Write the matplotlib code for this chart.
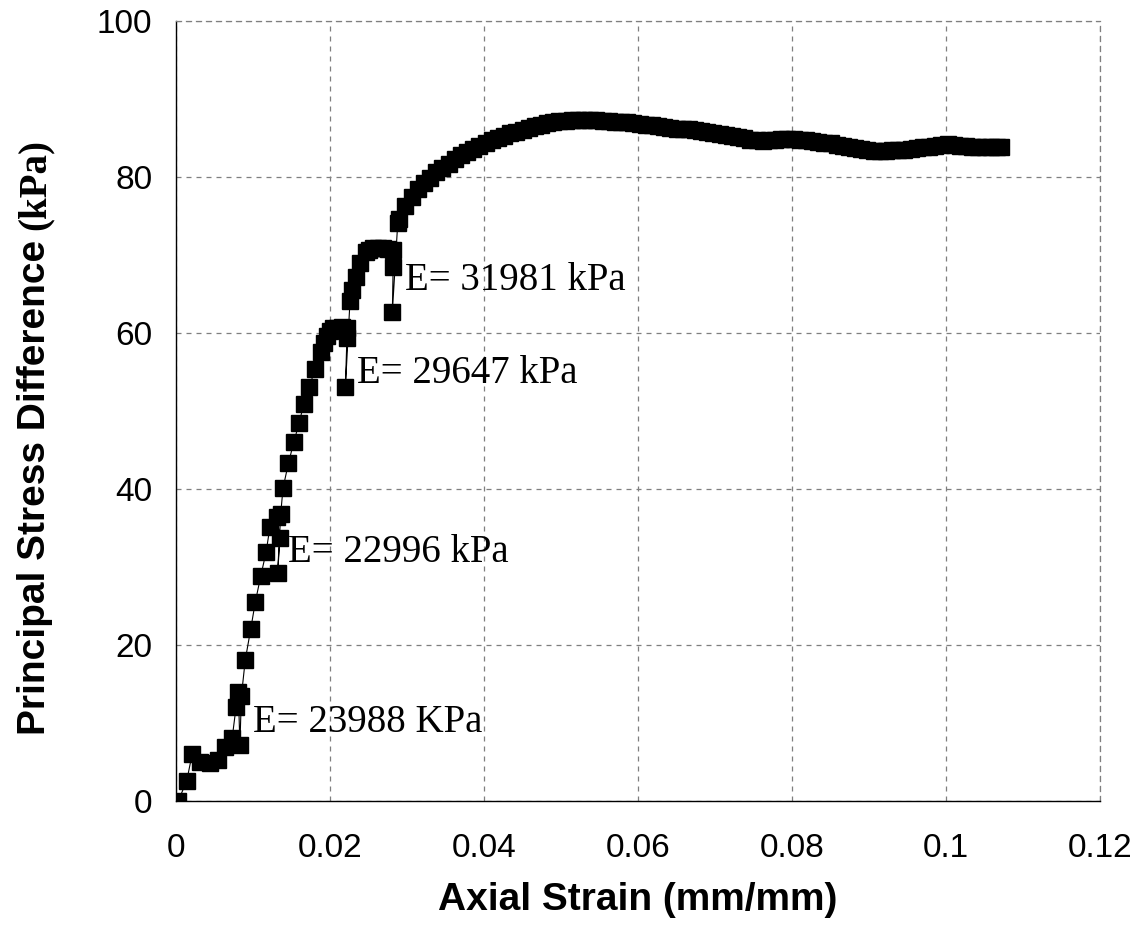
import matplotlib.pyplot as plt

# lecture de la courbe (déformation axiale, déviateur)
strain_start = [0.0003, 0.0014, 0.0021, 0.0031, 0.0044, 0.0055, 0.0064, 0.0073,
                0.0078, 0.0081, 0.0083, 0.0085, 0.0090, 0.0097, 0.0103, 0.0110,
                0.0117, 0.0122, 0.0131, 0.0135, 0.0132, 0.0136, 0.0139, 0.0146,
                0.0153, 0.0160, 0.0166, 0.0173, 0.0181, 0.0188, 0.0192, 0.0196,
                0.0200, 0.0204, 0.0209, 0.0215, 0.0222, 0.0222, 0.0220, 0.0226,
                0.0228, 0.0234, 0.0239, 0.0247, 0.0251, 0.0256, 0.0262, 0.0269,
                0.0275, 0.0282, 0.0282, 0.0281, 0.0288]
stress_start = [0.0, 2.6, 6.0, 5.0, 4.9, 5.3, 6.9, 8.1,
                12.0, 14.0, 7.2, 13.5, 18.1, 22.0, 25.5, 28.8,
                31.9, 35.1, 36.4, 33.7, 29.2, 36.8, 40.1, 43.3,
                46.0, 48.5, 50.9, 53.1, 55.4, 57.6, 58.7, 59.6,
                60.2, 60.6, 60.7, 60.8, 60.6, 59.4, 53.1, 64.1,
                65.5, 67.2, 69.0, 70.4, 70.7, 70.9, 70.9, 70.9,
                70.8, 70.6, 68.5, 62.7, 74.1]

strain_end = [0.0290, 0.0298, 0.0306, 0.0314, 0.0322, 0.0330, 0.0338, 0.0346,
              0.0354, 0.0362, 0.0370, 0.0378, 0.0386, 0.0394, 0.0402, 0.0410,
              0.0418, 0.0426, 0.0434, 0.0442, 0.0450, 0.0458, 0.0466, 0.0474,
              0.0482, 0.0490, 0.0498, 0.0506, 0.0514, 0.0522, 0.0530, 0.0538,
              0.0546, 0.0554, 0.0562, 0.0570, 0.0578, 0.0586, 0.0594, 0.0602,
              0.0610, 0.0618, 0.0626, 0.0634, 0.0642, 0.0650, 0.0658, 0.0666,
              0.0674, 0.0682, 0.0690, 0.0698, 0.0706, 0.0714, 0.0722, 0.0730,
              0.0738, 0.0746, 0.0754, 0.0762, 0.0770, 0.0778, 0.0786, 0.0794,
              0.0802, 0.0810, 0.0818, 0.0826, 0.0834, 0.0842, 0.0850, 0.0858,
              0.0866, 0.0874, 0.0882, 0.0890, 0.0898, 0.0906, 0.0914, 0.0922,
              0.0930, 0.0938, 0.0946, 0.0954, 0.0962, 0.0970, 0.0978, 0.0986,
              0.0994, 0.1002, 0.1010, 0.1018, 0.1026, 0.1034, 0.1042, 0.1050,
              0.1058, 0.1066, 0.1072]
stress_end = [74.6, 76.3, 77.4, 78.4, 79.2, 79.9, 80.6, 81.2,
              81.7, 82.3, 82.8, 83.2, 83.6, 84.0, 84.3, 84.7,
              85.0, 85.3, 85.6, 85.8, 86.0, 86.3, 86.5, 86.7,
              86.9, 87.0, 87.2, 87.2, 87.3, 87.3, 87.3, 87.3,
              87.3, 87.2, 87.2, 87.1, 87.0, 87.0, 86.9, 86.8,
              86.7, 86.6, 86.5, 86.4, 86.3, 86.2, 86.1, 86.1,
              86.0, 85.9, 85.8, 85.6, 85.5, 85.4, 85.3, 85.1,
              85.0, 84.8, 84.7, 84.6, 84.7, 84.8, 84.9, 84.9,
              84.9, 84.8, 84.7, 84.6, 84.5, 84.4, 84.3, 84.1,
              84.0, 83.9, 83.7, 83.6, 83.4, 83.3, 83.3, 83.3,
              83.4, 83.4, 83.5, 83.6, 83.7, 83.8, 83.9, 84.0,
              84.1, 84.2, 84.1, 84.0, 84.0, 83.9, 83.9, 83.9,
              83.8, 83.8, 83.8]

strain = strain_start + strain_end
stress = stress_start + stress_end

# modules annotés
labels_E = ["E= 23988 KPa", "E= 22996 kPa", "E= 29647 kPa", "E= 31981 kPa"]
x_E = [0.0100, 0.01455, 0.02351, 0.02974]
y_E = [8.85, 30.64, 53.59, 65.51]

x_ticks = [0, 0.02, 0.04, 0.06, 0.08, 0.1, 0.12]
x_ticklabels = ["0", "0.02", "0.04", "0.06", "0.08", "0.1", "0.12"]
y_ticks = [0, 20, 40, 60, 80, 100]

fig = plt.figure(figsize=(11.39, 9.40), dpi=100)
ax = fig.add_axes([0.1545, 0.1479, 0.8113, 0.8298])

ax.plot(strain, stress, color="black", linewidth=0.8,
        marker="s", markersize=11.5, markerfacecolor="black",
        markeredgecolor="black", zorder=3)

for lab, xx, yy in zip(labels_E, x_E, y_E):
    ax.text(xx, yy, lab, fontsize=28, family="Liberation Serif",
            ha="left", va="baseline", zorder=4)

ax.set_xlim(0, 0.12)
ax.set_ylim(0, 100)
ax.set_xticks(x_ticks)
ax.set_xticklabels(x_ticklabels)
ax.set_yticks(y_ticks)
ax.tick_params(axis="both", length=0, labelsize=24)
ax.tick_params(axis="x", pad=23)
ax.tick_params(axis="y", pad=17)
for t in ax.get_xticklabels() + ax.get_yticklabels():
    t.set_family("Liberation Sans")

ax.grid(True, color="#7f7f7f", linestyle=(0, (4, 4)), linewidth=0.9)
ax.set_axisbelow(True)

for s in ["top", "right"]:
    ax.spines[s].set_color("#7f7f7f")
    ax.spines[s].set_linestyle((0, (4, 4)))
    ax.spines[s].set_linewidth(0.9)
for s in ["left", "bottom"]:
    ax.spines[s].set_color("black")
    ax.spines[s].set_linewidth(1.0)

fig.text(638 / 1139, 1 - 900 / 940, "Axial Strain (mm/mm)",
         fontsize=28, fontweight="bold", family="Liberation Sans",
         ha="center", va="center")

# titre vertical : partie sans-serif puis "(kPa)" en serif juste après
t1 = fig.text(35 / 1139, 1 - 735 / 940, "Principal Stress Difference",
              fontsize=28, fontweight="bold", family="Liberation Sans",
              rotation=90, rotation_mode="anchor", ha="left", va="center")
fig.canvas.draw()
bb = t1.get_window_extent()
fig.text(35 / 1139, (bb.y1 + 10) / fig.bbox.height, "(kPa)",
         fontsize=28, fontweight="bold", family="Liberation Serif",
         rotation=90, rotation_mode="anchor", ha="left", va="center")

plt.savefig("out.png", dpi=100)
